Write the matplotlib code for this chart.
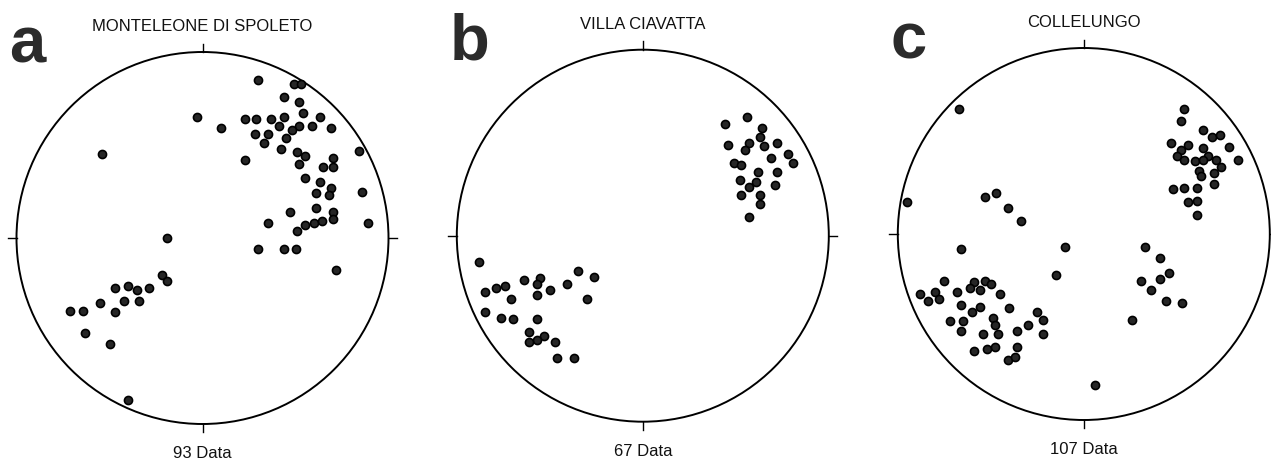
import numpy as np
import matplotlib
matplotlib.use("Agg")
import matplotlib.pyplot as plt
from matplotlib.patches import Circle

# --- data: poles (unit-circle coordinates, x east, y north) ---
site_names = ["MONTELEONE DI SPOLETO", "VILLA CIAVATTA", "COLLELUNGO"]
panel_letters = ["a", "b", "c"]
data_counts = [93, 67, 107]

monteleone_x = [0.30, 0.49, 0.53, 0.44, 0.52, -0.03, 0.10, 0.23, 0.29, 0.37,
                0.44, 0.54, 0.63, 0.41, 0.52, 0.59, 0.69, 0.28, 0.35, 0.33,
                0.45, 0.48, 0.42, 0.84, -0.54, 0.23, 0.51, 0.55, 0.52, 0.70,
                0.65, 0.70, 0.55, 0.63, 0.69, 0.86, 0.61, 0.68, 0.61, 0.47,
                0.70, 0.35, 0.51, 0.55, 0.60, 0.64, 0.70, 0.89, -0.19, 0.30,
                0.44, 0.50, 0.72, -0.22, -0.19, -0.47, -0.40, -0.35, -0.29, -0.55,
                -0.42, -0.34, -0.47, -0.71, -0.64, -0.63, -0.50, -0.40]
monteleone_y = [0.85, 0.83, 0.83, 0.76, 0.73, 0.65, 0.59, 0.64, 0.64, 0.64,
                0.65, 0.67, 0.65, 0.60, 0.60, 0.60, 0.59, 0.56, 0.56, 0.51,
                0.54, 0.58, 0.48, 0.47, 0.45, 0.42, 0.46, 0.44, 0.40, 0.43,
                0.38, 0.38, 0.32, 0.30, 0.27, 0.25, 0.24, 0.23, 0.16, 0.14,
                0.14, 0.08, 0.04, 0.07, 0.08, 0.09, 0.10, 0.08, 0.00, -0.06,
                -0.06, -0.06, -0.17, -0.20, -0.23, -0.27, -0.26, -0.28, -0.27, -0.35,
                -0.34, -0.34, -0.40, -0.39, -0.39, -0.51, -0.57, -0.87]

ciavatta_x = [0.44, 0.56, 0.64, 0.63, 0.46, 0.57, 0.55, 0.65, 0.72, 0.78,
              0.81, 0.49, 0.53, 0.69, 0.62, 0.72, 0.52, 0.61, 0.57, 0.71,
              0.53, 0.63, 0.63, 0.57,
              -0.88, -0.35, -0.26, -0.64, -0.55, -0.57, -0.79, -0.74, -0.85, -0.41,
              -0.50, -0.57, -0.71, -0.30, -0.85, -0.76, -0.70, -0.57, -0.61, -0.53,
              -0.57, -0.61, -0.47, -0.46, -0.37]
ciavatta_y = [0.60, 0.64, 0.58, 0.53, 0.49, 0.50, 0.46, 0.48, 0.50, 0.44,
              0.39, 0.39, 0.38, 0.42, 0.34, 0.34, 0.30, 0.29, 0.26, 0.27,
              0.22, 0.22, 0.17, 0.10,
              -0.14, -0.19, -0.22, -0.24, -0.23, -0.26, -0.28, -0.27, -0.30, -0.26,
              -0.29, -0.32, -0.34, -0.34, -0.41, -0.44, -0.45, -0.45, -0.52, -0.54,
              -0.56, -0.57, -0.57, -0.66, -0.66]

collelungo_x = [0.54, 0.52, 0.64, 0.69, 0.73, 0.47, 0.56, 0.52, 0.64, 0.78,
                0.50, 0.54, 0.60, 0.67, 0.71, 0.64, 0.83, 0.74, 0.62, 0.63,
                0.70, 0.70, 0.48, 0.54, 0.61, 0.56, 0.61, 0.61,
                -0.67, -0.95, -0.53, -0.47, -0.41, -0.34, -0.10, -0.66, 0.33, 0.41,
                -0.15, 0.46, 0.41, 0.31, 0.36, 0.44, 0.53, 0.26, 0.06,
                -0.75, -0.88, -0.84, -0.80, -0.78, -0.68, -0.59, -0.53, -0.50, -0.61,
                -0.56, -0.45, -0.66, -0.56, -0.60, -0.40, -0.25, -0.22, -0.72, -0.65,
                -0.49, -0.48, -0.66, -0.54, -0.46, -0.36, -0.30, -0.22, -0.59, -0.52,
                -0.48, -0.36, -0.41, -0.37]
collelungo_y = [0.67, 0.61, 0.56, 0.52, 0.53, 0.49, 0.48, 0.45, 0.46, 0.47,
                0.42, 0.40, 0.39, 0.42, 0.40, 0.40, 0.40, 0.36, 0.34, 0.31,
                0.33, 0.27, 0.24, 0.25, 0.25, 0.17, 0.18, 0.10,
                0.67, 0.17, 0.20, 0.22, 0.14, 0.07, -0.07, -0.08, -0.07, -0.13,
                -0.22, -0.21, -0.24, -0.25, -0.30, -0.36, -0.37, -0.46, -0.81,
                -0.25, -0.32, -0.36, -0.31, -0.35, -0.31, -0.26, -0.25, -0.27, -0.29,
                -0.30, -0.32, -0.38, -0.39, -0.42, -0.40, -0.42, -0.46, -0.47, -0.47,
                -0.45, -0.49, -0.52, -0.54, -0.54, -0.52, -0.49, -0.54, -0.63, -0.62,
                -0.61, -0.61, -0.68, -0.66]

poles_x = [monteleone_x, ciavatta_x, collelungo_x]
poles_y = [monteleone_y, ciavatta_y, collelungo_y]

# --- layout (pixels of the 1271x460 output) ---
FIG_W, FIG_H = 1271, 460
NET_R = 186                      # net radius in pixels
LIM = 1.08
net_centres = [(202.5, 239), (642.8, 236.7), (1083.8, 235)]

plt.rcParams['font.family'] = ['Liberation Sans', 'DejaVu Sans']

fig = plt.figure(figsize=(FIG_W / 100, FIG_H / 100), dpi=100)
fig.patch.set_facecolor("white")

for i, (cx, cy) in enumerate(net_centres):
    ax = fig.add_axes([(cx - LIM * NET_R) / FIG_W, (FIG_H - cy - LIM * NET_R) / FIG_H,
                       2 * LIM * NET_R / FIG_W, 2 * LIM * NET_R / FIG_H])
    ax.set_xlim(-LIM, LIM)
    ax.set_ylim(-LIM, LIM)
    ax.axis("off")

    # primitive circle and N/E/S/W ticks
    ax.add_patch(Circle((0, 0), 1.0, fill=False, lw=1.4, ec="black"))
    tick = 0.045
    ax.plot([0, 0], [1, 1 + tick], color="black", lw=1.0, clip_on=False)
    ax.plot([0, 0], [-1, -1 - tick], color="black", lw=1.0, clip_on=False)
    ax.plot([1, 1 + tick], [0, 0], color="black", lw=1.0, clip_on=False)
    ax.plot([-1, -1 - tick], [0, 0], color="black", lw=1.0, clip_on=False)

    # poles
    ax.plot(poles_x[i], poles_y[i], "o", ms=5.8, mfc="#262626", mec="black",
            mew=1.2, clip_on=False)

    ax.text(0, 1.14, site_names[i], ha="center", va="center", fontsize=12,
            color="#111111", clip_on=False)
    ax.text(0, -1.155, f"{data_counts[i]} Data", ha="center", va="center",
            fontsize=12, color="#111111", clip_on=False)
    ax.text(-1.04, 0.95, panel_letters[i], ha="left", va="baseline", fontsize=47,
            fontweight="bold", color="#2b2b2b", clip_on=False)

fig.savefig("out.png", dpi=100, facecolor="white")
